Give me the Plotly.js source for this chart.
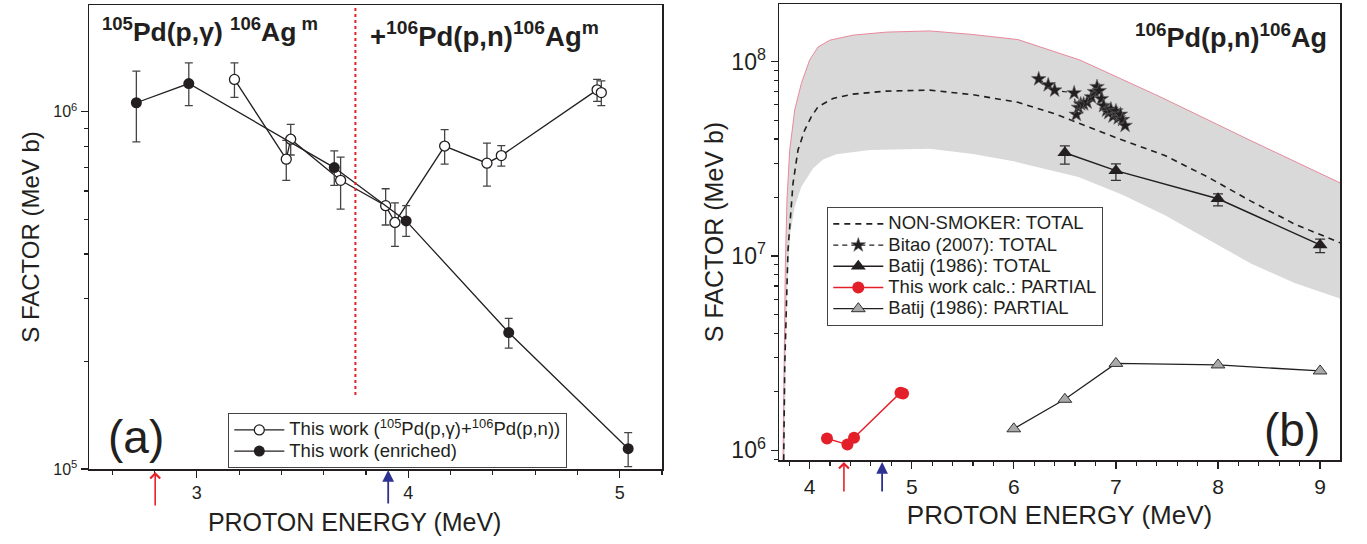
<!DOCTYPE html>
<html><head><meta charset="utf-8">
<script src="https://cdn.plot.ly/plotly-3.0.1.min.js"></script>
<style>html,body{margin:0;padding:0;background:#fff}#chart{width:1367px;height:544px}</style>
</head><body><div id="chart"></div>
<script>
// ---------- Panel (a) data ----------
const natE  = [3.178, 3.423, 3.444, 3.680, 3.893, 3.937, 4.172, 4.372, 4.440, 4.893, 4.913];
const natS  = [1.232e6, 7.37e5, 8.38e5, 6.43e5, 5.46e5, 4.90e5, 8.02e5, 7.18e5, 7.54e5, 1.152e6, 1.132e6];
const natUp = [1.371e6, 8.32e5, 9.22e5, 7.47e5, 6.09e5, 5.56e5, 8.91e5, 8.17e5, 8.04e5, 1.232e6, 1.22e6];
const natLo = [1.097e6, 6.43e5, 7.57e5, 5.34e5, 4.82e5, 4.20e5, 7.14e5, 6.19e5, 7.05e5, 1.07e6, 1.04e6];

const enrE  = [2.714, 2.962, 3.650, 3.990, 4.475, 5.040];
const enrS  = [1.06e6, 1.20e6, 6.98e5, 4.95e5, 2.41e5, 1.14e5];
const enrUp = [1.30e6, 1.37e6, 7.77e5, 5.46e5, 2.64e5, 1.265e5];
const enrLo = [8.24e5, 1.04e6, 6.22e5, 4.48e5, 2.18e5, 1.016e5];

const thresholdE = 3.75;            // red dotted separator
const thresholdSpan = [1.61e5, 1.99e6];
const arrowsA = [2.803, 3.905];     // red, blue arrows under axis (a)

// ---------- Panel (b) data ----------
const bandUpE = [3.739, 3.749, 3.762, 3.778, 3.805, 3.854, 3.919, 4.0, 4.082, 4.197, 4.425, 4.752, 5.177, 5.6, 6.04, 6.647, 7.43, 8.31, 9.195];
const bandUpS = [8.91e5, 2.69e6, 8.79e6, 1.94e7, 3.51e7, 5.64e7, 7.73e7, 1.02e8, 1.19e8, 1.29e8, 1.37e8, 1.42e8, 1.44e8, 1.38e8, 1.30e8, 1.02e8, 6.61e7, 3.95e7, 2.38e7];
const bandLoE = [3.756, 3.765, 3.782, 3.811, 3.854, 3.919, 4.033, 4.131, 4.262, 4.589, 5.177, 5.6, 5.998, 6.633, 7.057, 7.48, 7.90, 8.327, 8.75, 9.195];
const bandLoS = [8.91e5, 2.69e6, 7.21e6, 1.31e7, 1.79e7, 2.27e7, 2.82e7, 3.14e7, 3.34e7, 3.51e7, 3.56e7, 3.35e7, 3.07e7, 2.55e7, 2.07e7, 1.62e7, 1.22e7, 9.12e6, 7.26e6, 6.04e6];

const nsE = [3.746, 3.756, 3.788, 3.837, 3.886, 3.952, 4.017, 4.082, 4.229, 4.425, 4.752, 5.177, 5.6, 6.04, 6.42, 6.84, 7.057, 7.48, 7.90, 8.327, 8.75, 9.195];
const nsS = [8.89e5, 2.69e6, 1.07e7, 2.36e7, 3.51e7, 4.45e7, 5.21e7, 5.86e7, 6.47e7, 6.81e7, 7.06e7, 7.14e7, 6.76e7, 6.18e7, 5.35e7, 4.40e7, 3.96e7, 3.29e7, 2.55e7, 1.91e7, 1.46e7, 1.17e7];

const bitE = [6.244, 6.337, 6.40, 6.591, 6.612, 6.633, 6.655, 6.684, 6.718, 6.76, 6.79, 6.815, 6.837, 6.858, 6.879, 6.909, 6.93, 6.951, 6.972, 7.0, 7.023, 7.044, 7.065, 7.09];
const bitS = [8.15e7, 7.59e7, 7.13e7, 6.90e7, 5.35e7, 5.81e7, 6.05e7, 6.05e7, 6.18e7, 6.58e7, 7.0e7, 7.43e7, 7.08e7, 6.44e7, 5.93e7, 5.62e7, 5.46e7, 5.69e7, 5.24e7, 5.57e7, 5.13e7, 5.35e7, 5.03e7, 4.69e7];

const batTotE  = [6.5, 7.0, 8.0, 9.0];
const batTotS  = [3.40e7, 2.75e7, 1.97e7, 1.14e7];
const batTotUp = [3.69e7, 2.98e7, 2.09e7, 1.22e7];
const batTotLo = [2.97e7, 2.45e7, 1.81e7, 1.04e7];

const calcE = [4.17, 4.37, 4.435, 4.89, 4.915];
const calcS = [1.15e6, 1.07e6, 1.16e6, 1.98e6, 1.96e6];

const batParE = [6.0, 6.5, 7.0, 8.0, 9.0];
const batParS = [1.29e6, 1.83e6, 2.80e6, 2.75e6, 2.56e6];

const arrowsB = [4.336, 4.71];

// ---------- helpers ----------
const FONT = '"Liberation Sans", Arial, Helvetica, sans-serif';
const INK = '#231f20';
const NB = '\u00a0';
const LEGTXT = s => '<span style="font-size:18.5px">' + s + '</span>';
const diff = (a, b) => a.map((v, i) => v - b[i]);
function minorLog(d0, d1) {
  const out = [];
  for (let d = d0; d <= d1; d++) for (let k = 2; k <= 9; k++) out.push(k * Math.pow(10, d));
  return out;
}

const traces = [
  {
    name: LEGTXT('This work (<sup>105</sup>Pd(p,γ)+<sup>106</sup>Pd(p,n))'),
    x: natE, y: natS, xaxis: 'x', yaxis: 'y', legend: 'legend',
    mode: 'lines+markers', type: 'scatter',
    line: {color: INK, width: 1.3},
    marker: {symbol: 'circle', size: 10, color: '#ffffff', line: {color: INK, width: 1.3}},
    error_y: {type: 'data', symmetric: false, array: diff(natUp, natS), arrayminus: diff(natS, natLo),
              color: '#444', thickness: 1.3, width: 4}
  },
  {
    name: LEGTXT('This work (enriched)'),
    x: enrE, y: enrS, xaxis: 'x', yaxis: 'y', legend: 'legend',
    mode: 'lines+markers', type: 'scatter',
    line: {color: INK, width: 1.3},
    marker: {symbol: 'circle', size: 11, color: INK},
    error_y: {type: 'data', symmetric: false, array: diff(enrUp, enrS), arrayminus: diff(enrS, enrLo),
              color: '#444', thickness: 1.3, width: 4}
  },
  // panel (b)
  {
    name: 'band', showlegend: false, hoverinfo: 'skip',
    x: bandUpE.concat(bandLoE.slice().reverse()),
    y: bandUpS.concat(bandLoS.slice().reverse()),
    xaxis: 'x2', yaxis: 'y2', mode: 'lines', type: 'scatter', fill: 'toself',
    fillcolor: '#d9d9d9', line: {width: 0, color: '#d9d9d9'}
  },
  {
    name: 'band upper', showlegend: false, hoverinfo: 'skip',
    x: bandUpE, y: bandUpS, xaxis: 'x2', yaxis: 'y2', mode: 'lines', type: 'scatter',
    line: {color: '#e8899c', width: 1}
  },
  {
    name: LEGTXT('NON-SMOKER: TOTAL'), legend: 'legend2',
    x: nsE, y: nsS, xaxis: 'x2', yaxis: 'y2', mode: 'lines', type: 'scatter',
    line: {color: INK, width: 1.6, dash: '6px,5px'}
  },
  {
    name: LEGTXT('Bitao (2007): TOTAL'), legend: 'legend2',
    x: bitE, y: bitS, xaxis: 'x2', yaxis: 'y2', mode: 'lines+markers', type: 'scatter',
    line: {color: INK, width: 1.2, dash: '5px,4px'},
    marker: {symbol: 'star', size: 11, color: INK, line: {color: '#666', width: 0.6}}
  },
  {
    name: LEGTXT('Batij (1986): TOTAL'), legend: 'legend2',
    x: batTotE, y: batTotS, xaxis: 'x2', yaxis: 'y2', mode: 'lines+markers', type: 'scatter',
    line: {color: INK, width: 1.5},
    marker: {symbol: 'triangle-up', size: 13, color: INK},
    error_y: {type: 'data', symmetric: false, array: diff(batTotUp, batTotS), arrayminus: diff(batTotS, batTotLo),
              color: '#333', thickness: 1.3, width: 5}
  },
  {
    name: LEGTXT('This work calc.: PARTIAL'), legend: 'legend2',
    x: calcE, y: calcS, xaxis: 'x2', yaxis: 'y2', mode: 'lines+markers', type: 'scatter',
    line: {color: '#e3202a', width: 1.4},
    marker: {symbol: 'circle', size: 12, color: '#e3202a'}
  },
  {
    name: LEGTXT('Batij (1986): PARTIAL'), legend: 'legend2',
    x: batParE, y: batParS, xaxis: 'x2', yaxis: 'y2', mode: 'lines+markers', type: 'scatter',
    line: {color: INK, width: 1.3},
    marker: {symbol: 'triangle-up', size: 12, color: '#a9a9a9', line: {color: '#333', width: 1}}
  }
];

const W = 1367, H = 544;
const px = v => v / W, py = v => 1 - v / H;

const axBase = {
  showgrid: false, zeroline: false, showline: true, linecolor: INK, linewidth: 1.5,
  ticks: 'outside', tickcolor: INK, tickwidth: 1.3, ticklen: 7,
  tickfont: {family: FONT, color: INK}
};

const layout = {
  width: W, height: H,
  margin: {l: 0, r: 0, t: 0, b: 0},
  paper_bgcolor: '#ffffff', plot_bgcolor: 'rgba(0,0,0,0)',
  font: {family: FONT, color: INK},
  showlegend: true,
  // ---- panel (a) axes ----
  xaxis: Object.assign({}, axBase, {
    domain: [px(89), px(662)], range: [2.49, 5.2], anchor: 'y', mirror: true,
    tickmode: 'array', tickvals: [3, 4, 5], tickfont: {family: FONT, color: INK, size: 18},
    minor: {tickmode: 'linear', tick0: 0, dtick: 0.2, ticks: 'outside', ticklen: 4, tickcolor: INK, tickwidth: 1.2},
    title: {text: 'PROTON ENERGY (MeV)' + NB.repeat(6) + '\u200b', font: {family: FONT, size: 25, color: INK}, standoff: 11}
  }),
  yaxis: Object.assign({}, axBase, {
    domain: [py(469), py(5)], type: 'log', range: [5, 6.299], anchor: 'x', mirror: true,
    tickmode: 'array', tickvals: [1e5, 1e6], ticktext: ['10<sup>5</sup>', '10<sup>6</sup>'],
    tickfont: {family: FONT, color: INK, size: 16},
    minor: {tickmode: 'array', tickvals: minorLog(5, 6), ticks: 'outside', ticklen: 4, tickcolor: INK, tickwidth: 1.2},
    title: {text: 'S FACTOR (MeV b)', font: {family: FONT, size: 24, color: INK}, standoff: 7}
  }),
  yaxis3: {
    overlaying: 'y', side: 'right', anchor: 'x', type: 'log', range: [5, 6.299],
    showgrid: false, zeroline: false, showline: false, showticklabels: false,
    tickmode: 'array', tickvals: [1e5, 1e6], ticks: 'inside', ticklen: 8, tickcolor: INK, tickwidth: 1.3,
    minor: {tickmode: 'array', tickvals: minorLog(5, 6), ticks: 'inside', ticklen: 5, tickcolor: INK, tickwidth: 1.2}
  },
  // ---- panel (b) axes ----
  xaxis2: Object.assign({}, axBase, {
    domain: [px(779), px(1340)], range: [3.70, 9.195], anchor: 'y2', mirror: true,
    tickmode: 'array', tickvals: [4, 5, 6, 7, 8, 9], tickfont: {family: FONT, color: INK, size: 21},
    minor: {tickmode: 'linear', tick0: 0, dtick: 0.2, ticks: 'outside', ticklen: 4, tickcolor: INK, tickwidth: 1.2},
    title: {text: 'PROTON ENERGY (MeV)', font: {family: FONT, size: 26, color: INK}, standoff: 9}
  }),
  xaxis4: {
    overlaying: 'x2', side: 'top', anchor: 'y2', range: [3.70, 9.195],
    showgrid: false, zeroline: false, showline: false, showticklabels: false,
    tickmode: 'array', tickvals: [4, 5, 6, 7, 8, 9], ticks: 'inside', ticklen: 7, tickcolor: INK, tickwidth: 1.3,
    minor: {tickmode: 'linear', tick0: 0, dtick: 0.2, ticks: 'inside', ticklen: 4, tickcolor: INK, tickwidth: 1.2}
  },
  yaxis2: Object.assign({}, axBase, {
    domain: [py(460), py(4)], type: 'log', range: [5.95, 8.297], anchor: 'x2', mirror: true,
    tickmode: 'array', tickvals: [1e6, 1e7, 1e8], ticktext: ['10<sup>6</sup>', '10<sup>7</sup>', '10<sup>8</sup>'],
    tickfont: {family: FONT, color: INK, size: 23},
    minor: {tickmode: 'array', tickvals: minorLog(5, 8), ticks: 'outside', ticklen: 4, tickcolor: INK, tickwidth: 1.2},
    title: {text: 'S FACTOR (MeV b)', font: {family: FONT, size: 25, color: INK}, standoff: 0}
  }),
  yaxis4: {
    overlaying: 'y2', side: 'right', anchor: 'x2', type: 'log', range: [5.95, 8.297],
    showgrid: false, zeroline: false, showline: false, showticklabels: false,
    tickmode: 'array', tickvals: [1e6, 1e7, 1e8], ticks: 'inside', ticklen: 8, tickcolor: INK, tickwidth: 1.3,
    minor: {tickmode: 'array', tickvals: minorLog(5, 8), ticks: 'inside', ticklen: 5, tickcolor: INK, tickwidth: 1.2}
  },
  legend: {
    x: px(228), y: py(413), xanchor: 'left', yanchor: 'top',
    bgcolor: '#ffffff', bordercolor: '#444', borderwidth: 1.3,
    font: {family: FONT, size: 14, color: INK}, itemwidth: 50, tracegroupgap: 0
  },
  legend2: {
    x: px(827), y: py(207), xanchor: 'left', yanchor: 'top',
    bgcolor: '#ffffff', bordercolor: '#444', borderwidth: 1.3,
    font: {family: FONT, size: 14, color: INK}, itemwidth: 50, tracegroupgap: 0
  },
  shapes: [
    {type: 'line', xref: 'x', yref: 'y', x0: thresholdE, x1: thresholdE,
     y0: thresholdSpan[0], y1: thresholdSpan[1], line: {color: '#e8202a', width: 2, dash: 'dot'}}
  ],
  annotations: [
    {xref: 'paper', yref: 'paper', x: px(100), y: py(30), xanchor: 'left', yanchor: 'middle', showarrow: false,
     text: '<b><sup>105</sup>Pd(p,γ) <sup>106</sup>Ag<sup> m</sup></b>', font: {family: FONT, size: 26.5, color: INK}},
    {xref: 'paper', yref: 'paper', x: px(368), y: py(34), xanchor: 'left', yanchor: 'middle', showarrow: false,
     text: '<b>+<sup>106</sup>Pd(p,n)<sup>106</sup>Ag<sup>m</sup></b>', font: {family: FONT, size: 27.5, color: INK}},
    {xref: 'paper', yref: 'paper', x: px(1329), y: py(36), xanchor: 'right', yanchor: 'middle', showarrow: false,
     text: '<b><sup>106</sup>Pd(p,n)<sup>106</sup>Ag</b>', font: {family: FONT, size: 27, color: INK}},
    {xref: 'paper', yref: 'paper', x: px(136), y: py(437), xanchor: 'center', yanchor: 'middle', showarrow: false,
     text: '(a)', font: {family: FONT, size: 46, color: INK}},
    {xref: 'paper', yref: 'paper', x: px(1292), y: py(430), xanchor: 'center', yanchor: 'middle', showarrow: false,
     text: '(b)', font: {family: FONT, size: 46, color: INK}},
    // arrows panel (a)
    {xref: 'x', yref: 'paper', x: arrowsA[0], y: py(472), ax: 0, ay: 35, text: '', showarrow: true,
     arrowhead: 4, arrowsize: 1.2, arrowwidth: 1.6, arrowcolor: '#e8202a'},
    {xref: 'x', yref: 'paper', x: arrowsA[1], y: py(470), ax: 0, ay: 35, text: '', showarrow: true,
     arrowhead: 2, arrowsize: 1.3, arrowwidth: 1.8, arrowcolor: '#2e3192'},
    // arrows panel (b)
    {xref: 'x2', yref: 'paper', x: arrowsB[0], y: py(462), ax: 0, ay: 31, text: '', showarrow: true,
     arrowhead: 4, arrowsize: 1.2, arrowwidth: 1.6, arrowcolor: '#e8202a'},
    {xref: 'x2', yref: 'paper', x: arrowsB[1], y: py(462), ax: 0, ay: 31, text: '', showarrow: true,
     arrowhead: 2, arrowsize: 1.3, arrowwidth: 1.8, arrowcolor: '#2e3192'}
  ]
};

Plotly.newPlot('chart', traces, layout, {displayModeBar: false, staticPlot: true});
</script>
</body></html>
